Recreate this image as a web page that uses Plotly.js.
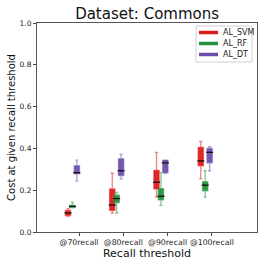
<!DOCTYPE html>
<html>
<head>
<meta charset="utf-8">
<script src="https://cdn.plot.ly/plotly-3.0.1.min.js"></script>
<style>html,body{margin:0;padding:0;background:#fff;}#chart{width:266px;height:266px;}</style>
</head>
<body>
<div id="chart"></div>
<script>
const categories = ["@70recall", "@80recall", "@90recall", "@100recall"];
const seriesNames = ["AL_SVM", "AL_RF", "AL_DT"];
const colors = ["#dd1c1c", "#23913c", "#6b4fab"];

// box statistics per series, one value per category
const svmLower  = [0.075, 0.090, 0.167, 0.255];
const svmQ1     = [0.079, 0.103, 0.206, 0.317];
const svmMedian = [0.091, 0.129, 0.238, 0.340];
const svmQ3     = [0.103, 0.206, 0.295, 0.405];
const svmUpper  = [0.112, 0.281, 0.381, 0.433];

const rfLower  = [0.115, 0.092, 0.127, 0.167];
const rfQ1     = [0.118, 0.141, 0.154, 0.197];
const rfMedian = [0.122, 0.160, 0.171, 0.224];
const rfQ3     = [0.128, 0.176, 0.208, 0.241];
const rfUpper  = [0.143, 0.190, 0.284, 0.293];

const dtLower  = [0.243, 0.254, 0.280, 0.293];
const dtQ1     = [0.278, 0.270, 0.284, 0.331];
const dtMedian = [0.284, 0.293, 0.331, 0.381];
const dtQ3     = [0.317, 0.350, 0.344, 0.400];
const dtUpper  = [0.344, 0.371, 0.344, 0.408];

const stats = [
  [svmLower, svmQ1, svmMedian, svmQ3, svmUpper],
  [rfLower, rfQ1, rfMedian, rfQ3, rfUpper],
  [dtLower, dtQ1, dtMedian, dtQ3, dtUpper]
];
const offsets = [-0.25, -0.15, -0.05];
const boxWidth = 0.12;

function rgba(hex, a) {
  const n = parseInt(hex.slice(1), 16);
  return `rgba(${(n>>16)&255},${(n>>8)&255},${n&255},${a})`;
}

const idx = categories.map((c, i) => i);
const traces = [];
stats.forEach((s, k) => {
  const xs = idx.map(i => i + offsets[k]);
  traces.push({
    type: "box",
    name: seriesNames[k],
    x: xs,
    lowerfence: s[0], q1: s[1], median: s[2], q3: s[3], upperfence: s[4],
    width: boxWidth,
    whiskerwidth: 0.6,
    fillcolor: rgba(colors[k], 0.95),
    line: {color: rgba(colors[k], 0.55), width: 1.3},
    showlegend: false,
    hoverinfo: "skip"
  });
});
// black median lines
stats.forEach((s, k) => {
  traces.push({
    type: "scatter", mode: "markers",
    x: idx.map(i => i + offsets[k]), y: s[2],
    marker: {symbol: "line-ew", size: 5, line: {color: "#111", width: 1.3}},
    showlegend: false, hoverinfo: "skip"
  });
});

// manual legend (matplotlib-like compact legend) in paper coordinates
const M = {l: 37, r: 9, t: 23, b: 34};
const W = 266, H = 266;
const pw = W - M.l - M.r, ph = H - M.t - M.b;
const px = x => (x - M.l) / pw;
const py = y => (H - M.b - y) / ph;
const shapes = [{
  type: "rect", xref: "paper", yref: "paper",
  x0: px(196), x1: px(252), y0: py(62), y1: py(26),
  line: {color: "#d0d0d0", width: 1}, fillcolor: "rgba(255,255,255,0.9)", layer: "above"
}];
const annotations = [];
seriesNames.forEach((n, k) => {
  const yy = 32.5 + k * 11;
  shapes.push({
    type: "line", xref: "paper", yref: "paper",
    x0: px(199), x1: px(218), y0: py(yy), y1: py(yy),
    line: {color: colors[k], width: 3.5}, layer: "above"
  });
  annotations.push({
    xref: "paper", yref: "paper", x: px(221), y: py(yy),
    xanchor: "left", yanchor: "middle", showarrow: false,
    text: n, font: {size: 8, color: "#222"}
  });
});

const layout = {
  width: W, height: H,
  margin: M,
  paper_bgcolor: "#fff", plot_bgcolor: "#fff",
  font: {family: "DejaVu Sans", color: "#222"},
  showlegend: false,
  title: {text: "Dataset: Commons", font: {size: 15, color: "#111"}, x: 0.553, xanchor: "center", y: 1 - 13.5 / 266, yanchor: "middle"},
  xaxis: {
    type: "linear",
    range: [-0.95, 4.02],
    tickvals: idx, ticktext: categories,
    tickfont: {size: 7.8, color: "#222"},
    tickangle: 0,
    ticks: "outside", ticklen: 3, tickcolor: "#444",
    showgrid: false, zeroline: false,
    showline: true, mirror: true, linecolor: "#555", linewidth: 1,
    title: {text: "Recall threshold", font: {size: 11, color: "#111"}, standoff: 2}
  },
  yaxis: {
    range: [0, 1.0],
    tickvals: [0, 0.2, 0.4, 0.6, 0.8, 1.0],
    ticktext: ["0.0", "0.2", "0.4", "0.6", "0.8", "1.0"],
    tickfont: {size: 7.5, color: "#222"},
    ticks: "outside", ticklen: 3, tickcolor: "#444",
    showgrid: false, zeroline: false,
    showline: true, mirror: true, linecolor: "#555", linewidth: 1,
    title: {text: "Cost at given recall threshold", font: {size: 10, color: "#111"}, standoff: 2}
  },
  shapes: shapes,
  annotations: annotations
};

Plotly.newPlot("chart", traces, layout, {staticPlot: true, displayModeBar: false});
</script>
</body>
</html>
